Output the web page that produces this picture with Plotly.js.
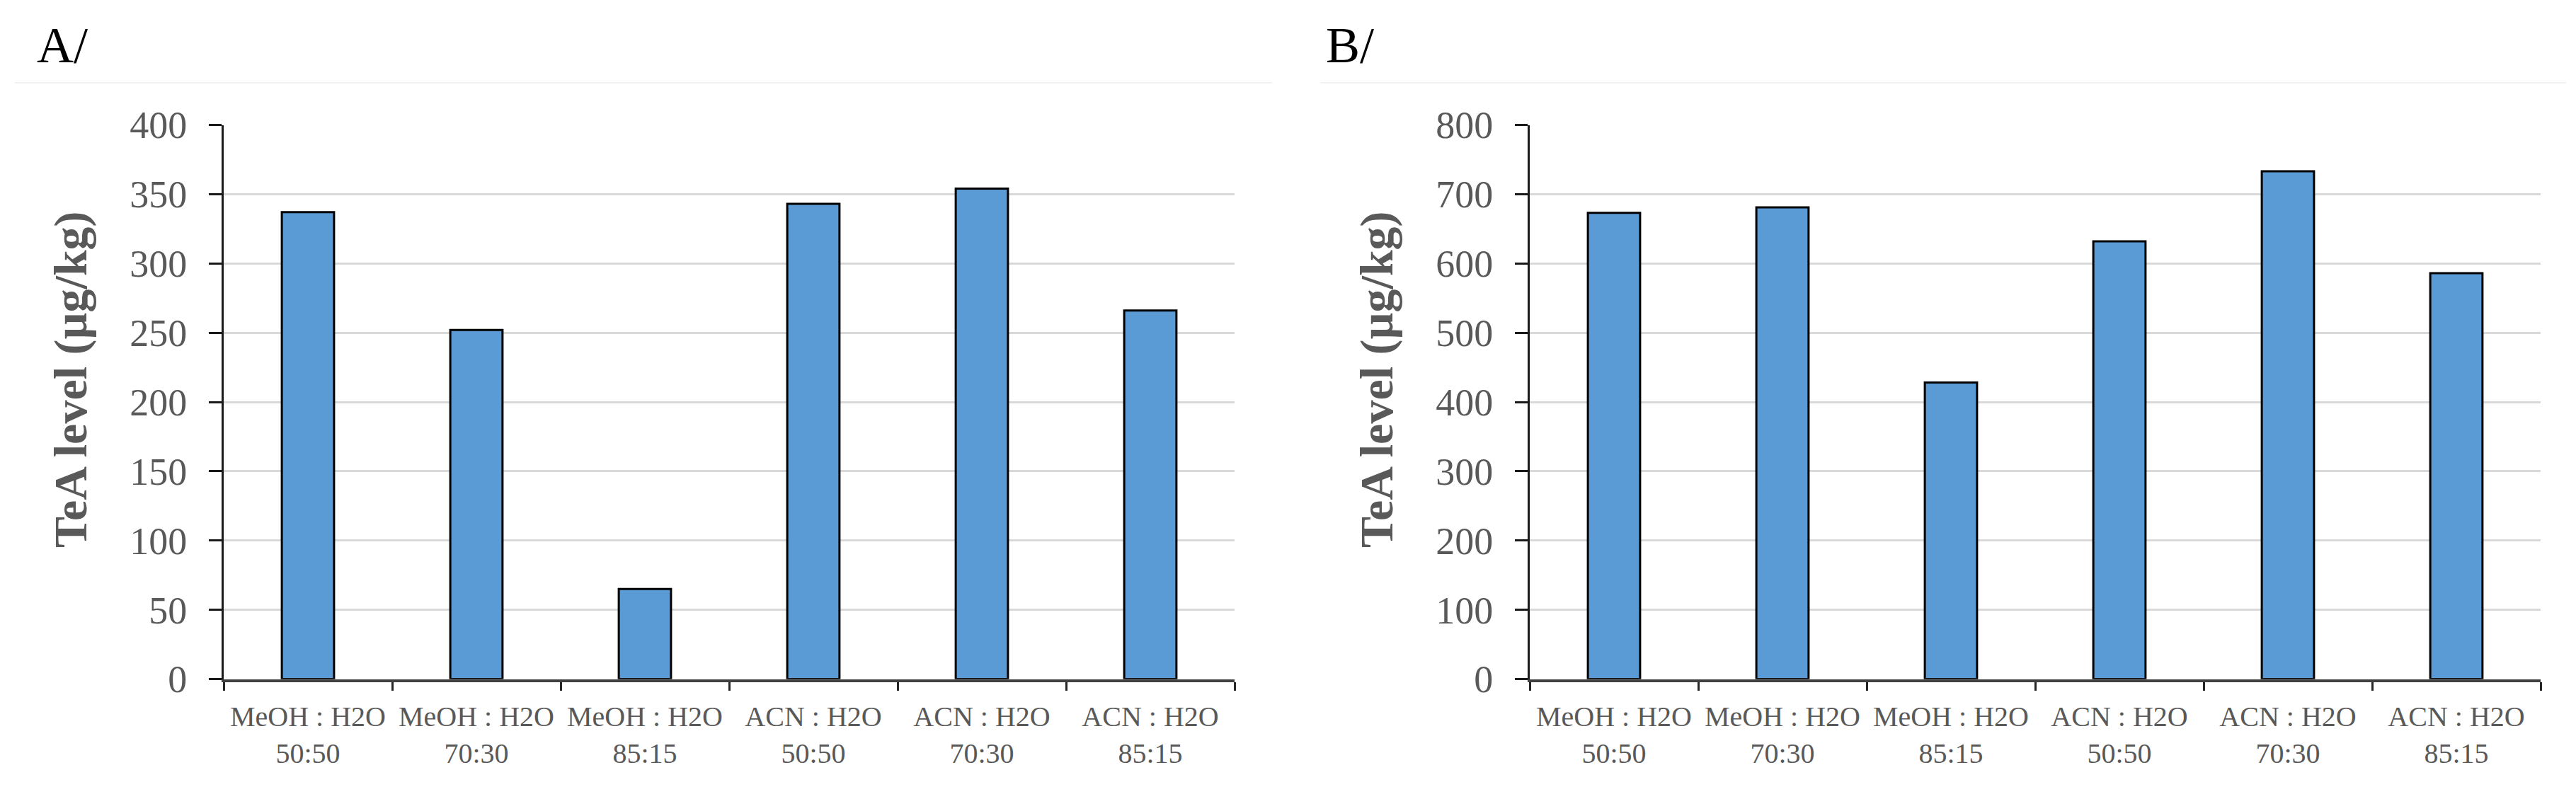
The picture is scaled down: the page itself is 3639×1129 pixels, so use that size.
<!DOCTYPE html>
<html>
<head>
<meta charset="utf-8">
<script src="https://cdn.plot.ly/plotly-3.0.1.min.js"></script>
<style>
  html, body { margin: 0; padding: 0; background: #fff; }
  #chart { width: 3639px; height: 1129px; }
</style>
</head>
<body>
<div id="chart"></div>
<script>
// categories (two-line tick labels)
const categories = [
  "MeOH : H2O<br>50:50",
  "MeOH : H2O<br>70:30",
  "MeOH : H2O<br>85:15",
  "ACN : H2O<br>50:50",
  "ACN : H2O<br>70:30",
  "ACN : H2O<br>85:15"
];

// TeA level (µg/kg)
const levelsA = [337, 252, 65, 343, 354, 266];
const levelsB = [673, 681, 428, 632, 733, 586];

const panelLabels = ["A/", "B/"];
const yTitle = "TeA level (µg/kg)";

const W = 3639, H = 1129;
const px = v => v / W;
const py = v => 1 - v / H;

const serif = "Liberation Serif, Times New Roman, serif";
const gray = "#595959";

function barTrace(values, xa, ya) {
  return {
    type: "bar",
    x: categories,
    y: values,
    xaxis: xa,
    yaxis: ya,
    marker: { color: "#5B9BD5", line: { color: "#000000", width: 3 } },
    hoverinfo: "x+y",
    showlegend: false
  };
}

function xAxis(domain, anchor) {
  return {
    domain: domain,
    anchor: anchor,
    type: "category",
    showgrid: false,
    zeroline: false,
    showline: true,
    linecolor: "#404040",
    linewidth: 4,
    ticks: "outside",
    tickson: "boundaries",
    ticklen: 12,
    tickwidth: 3,
    tickcolor: "#262626",
    ticklabelstandoff: 14,
    tickfont: { family: serif, size: 40, color: gray },
    fixedrange: true
  };
}

function yAxis(anchor, max, step) {
  return {
    domain: [py(959.5), py(176.5)],
    anchor: anchor,
    range: [0, max],
    dtick: step,
    showline: true,
    linecolor: "#1a1a1a",
    linewidth: 3,
    ticks: "outside",
    ticklen: 18,
    tickwidth: 3,
    tickcolor: "#1a1a1a",
    ticklabelstandoff: 20,
    showgrid: true,
    gridcolor: "#D9D9D9",
    gridwidth: 3,
    zeroline: false,
    tickfont: { family: serif, size: 54, color: gray },
    fixedrange: true
  };
}

const layout = {
  width: W,
  height: H,
  margin: { l: 0, r: 0, t: 0, b: 0 },
  paper_bgcolor: "#ffffff",
  plot_bgcolor: "#ffffff",
  bargap: 0.69,
  xaxis: xAxis([px(316), px(1744)], "y"),
  yaxis: yAxis("x", 400, 50),
  xaxis2: xAxis([px(2161), px(3589)], "y2"),
  yaxis2: yAxis("x2", 800, 100),
  shapes: [
    { type: "line", xref: "paper", yref: "paper", x0: px(21), x1: px(1797), y0: py(117), y1: py(117),
      line: { color: "#F2F2F2", width: 2 } },
    { type: "line", xref: "paper", yref: "paper", x0: px(1865), x1: px(3625), y0: py(117), y1: py(117),
      line: { color: "#F2F2F2", width: 2 } }
  ],
  annotations: [
    { text: panelLabels[0], xref: "paper", yref: "paper", x: px(50), y: py(22), xanchor: "left", yanchor: "top",
      showarrow: false, font: { family: serif, size: 72, color: "#000" } },
    { text: panelLabels[1], xref: "paper", yref: "paper", x: px(1871), y: py(22), xanchor: "left", yanchor: "top",
      showarrow: false, font: { family: serif, size: 72, color: "#000" } },
    { text: "<b>" + yTitle + "</b>", xref: "paper", yref: "paper", x: px(100), y: py(536), textangle: -90,
      xanchor: "center", yanchor: "middle", showarrow: false, font: { family: serif, size: 66, color: gray } },
    { text: "<b>" + yTitle + "</b>", xref: "paper", yref: "paper", x: px(1945), y: py(536), textangle: -90,
      xanchor: "center", yanchor: "middle", showarrow: false, font: { family: serif, size: 66, color: gray } }
  ]
};

Plotly.newPlot("chart", [
  barTrace(levelsA, "x", "y"),
  barTrace(levelsB, "x2", "y2")
], layout, { displayModeBar: false, staticPlot: true });
</script>
</body>
</html>
